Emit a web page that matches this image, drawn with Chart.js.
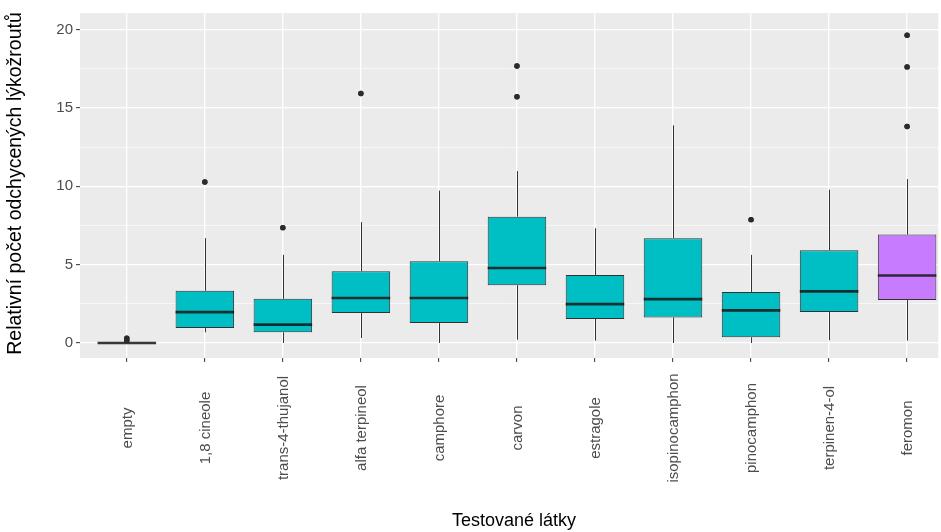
<!DOCTYPE html>
<html>
<head>
<meta charset="utf-8">
<script src="https://cdn.jsdelivr.net/npm/chart.js@4/dist/chart.umd.min.js"></script>
<style>
  html, body { margin: 0; padding: 0; background: #fff; }
  #wrap { width: 941px; height: 532px; position: relative; }
</style>
</head>
<body>
<div id="wrap"><canvas id="boxChart"></canvas></div>
<script>
// tested substances (x axis)
const categories = ["empty", "1,8 cineole", "trans-4-thujanol", "alfa terpineol", "camphore",
  "carvon", "estragole", "isopinocamphon", "pinocamphon", "terpinen-4-ol", "feromon"];
// group used for the fill colour
const groups = ["test", "test", "test", "test", "test", "test", "test", "test", "test", "test", "feromon"];

// box statistics per substance
const lowerWhisker = [0, 0.68, 0, 0.32, 0, 0.21, 0.15, 0, 0, 0.17, 0.15];
const q1 = [0, 0.95, 0.68, 1.91, 1.27, 3.69, 1.53, 1.63, 0.36, 1.97, 2.74];
const medians = [0, 1.97, 1.17, 2.87, 2.87, 4.78, 2.48, 2.80, 2.08, 3.29, 4.31];
const q3 = [0, 3.33, 2.82, 4.58, 5.22, 8.06, 4.33, 6.69, 3.25, 5.92, 6.92];
const upperWhisker = [0, 6.69, 5.62, 7.71, 9.72, 10.97, 7.32, 13.89, 5.62, 9.78, 10.46];
const outliers = [[0.15, 0.3], [10.27], [7.36], [15.92], [], [15.71, 17.68], [], [], [7.87], [], [13.82, 17.62, 19.64]];

const yTicks = [0, 5, 10, 15, 20];

const groupColors = { test: "#00BFC4", feromon: "#C77CFF" };
const FONT = "'Liberation Sans', Arial, sans-serif";

const boxData = categories.map((c, i) => ({ x: i, y: [q1[i], q3[i]] }));
const outlierData = [];
outliers.forEach((vals, i) => vals.forEach(v => outlierData.push({ x: i, y: v })));

// grey panel behind the plot
const panelBg = {
  id: "panelBg",
  beforeDraw(chart) {
    const { ctx, chartArea: a } = chart;
    ctx.save();
    ctx.fillStyle = "#EBEBEB";
    ctx.fillRect(a.left, a.top, a.right - a.left, a.bottom - a.top);
    ctx.restore();
  }
};

// whiskers and median lines
const boxExtras = {
  id: "boxExtras",
  beforeDatasetsDraw(chart) {
    const { ctx, scales: { x, y } } = chart;
    ctx.save();
    ctx.strokeStyle = "#333333";
    ctx.lineWidth = 1;
    categories.forEach((c, i) => {
      const px = Math.round(x.getPixelForValue(i)) + 0.5;
      ctx.beginPath();
      ctx.moveTo(px, y.getPixelForValue(q3[i]));
      ctx.lineTo(px, y.getPixelForValue(upperWhisker[i]));
      ctx.moveTo(px, y.getPixelForValue(q1[i]));
      ctx.lineTo(px, y.getPixelForValue(lowerWhisker[i]));
      ctx.stroke();
    });
    ctx.restore();
  },
  afterDatasetsDraw(chart) {
    const { ctx, scales: { y } } = chart;
    const meta = chart.getDatasetMeta(0);
    ctx.save();
    ctx.strokeStyle = "rgba(22,22,22,0.85)";
    ctx.lineWidth = 2.6;
    meta.data.forEach((bar, i) => {
      const half = bar.width / 2;
      const py = y.getPixelForValue(medians[i]);
      ctx.beginPath();
      ctx.moveTo(bar.x - half, py);
      ctx.lineTo(bar.x + half, py);
      ctx.stroke();
    });
    // outlier points on top
    chart.getDatasetMeta(1).data.forEach(pt => pt.draw(ctx));
    ctx.restore();
  }
};

// rotated category labels and axis titles
const axisText = {
  id: "axisText",
  afterDraw(chart) {
    const { ctx, chartArea: a, scales: { x } } = chart;
    ctx.save();
    ctx.fillStyle = "#4D4D4D";
    ctx.font = "15px " + FONT;
    ctx.textAlign = "center";
    ctx.textBaseline = "middle";
    categories.forEach((c, i) => {
      ctx.save();
      ctx.translate(x.getPixelForValue(i) + 1, 428);
      ctx.rotate(-Math.PI / 2);
      ctx.fillText(c, 0, 0);
      ctx.restore();
    });
    ctx.fillStyle = "#000";
    ctx.font = "18px " + FONT;
    ctx.fillText("Testované látky", 514, 521);
    ctx.font = "19.5px " + FONT;
    ctx.translate(16, (a.top + a.bottom) / 2 - 2);
    ctx.rotate(-Math.PI / 2);
    ctx.fillText("Relativní počet odchycených lýkožroutů", 0, 0);
    ctx.restore();
  }
};

new Chart(document.getElementById("boxChart"), {
  type: "bar",
  data: {
    datasets: [
      {
        type: "bar",
        data: boxData,
        backgroundColor: ctx => groupColors[groups[ctx.dataIndex]],
        borderColor: "rgba(30,30,30,0.9)",
        borderWidth: 1,
        borderSkipped: false,
        categoryPercentage: 1,
        barPercentage: 0.75
      },
      {
        type: "scatter",
        data: outlierData,
        pointRadius: 2.7,
        pointBackgroundColor: "#2b2b2b",
        pointBorderWidth: 0,
        pointHoverRadius: 2.7
      }
    ]
  },
  options: {
    responsive: true,
    maintainAspectRatio: false,
    animation: false,
    events: [],
    layout: { padding: { top: 13, left: 0, right: 0, bottom: 0 } },
    plugins: { legend: { display: false }, tooltip: { enabled: false } },
    scales: {
      x: {
        type: "linear",
        min: -0.6,
        max: 10.4,
        offset: false,
        // one tick per substance
        afterBuildTicks(scale) { scale.ticks = categories.map((c, i) => ({ value: i })); },
        afterFit(scale) { scale.height = 174; },
        border: { display: false },
        grid: {
          offset: false,
          color: "#FFFFFF",
          lineWidth: 1.3,
          tickColor: "#333333",
          tickLength: 4,
          tickWidth: 1
        },
        ticks: { display: false }
      },
      y: {
        min: -0.96,
        max: 21.06,
        afterFit(scale) { scale.width = 80; },
        border: { display: false },
        grid: {
          color: "#FFFFFF",
          lineWidth: ctx => yTicks.includes(ctx.tick.value) ? 1.3 : 0.6,
          tickColor: ctx => yTicks.includes(ctx.tick.value) ? "#333333" : "rgba(0,0,0,0)",
          tickLength: 4,
          tickWidth: 1
        },
        ticks: {
          stepSize: 2.5,
          includeBounds: false,
          padding: 3,
          color: "#4D4D4D",
          font: { family: FONT, size: 15 },
          callback: v => yTicks.includes(v) ? String(v) : ""
        }
      }
    }
  },
  plugins: [panelBg, boxExtras, axisText]
});
</script>
</body>
</html>
